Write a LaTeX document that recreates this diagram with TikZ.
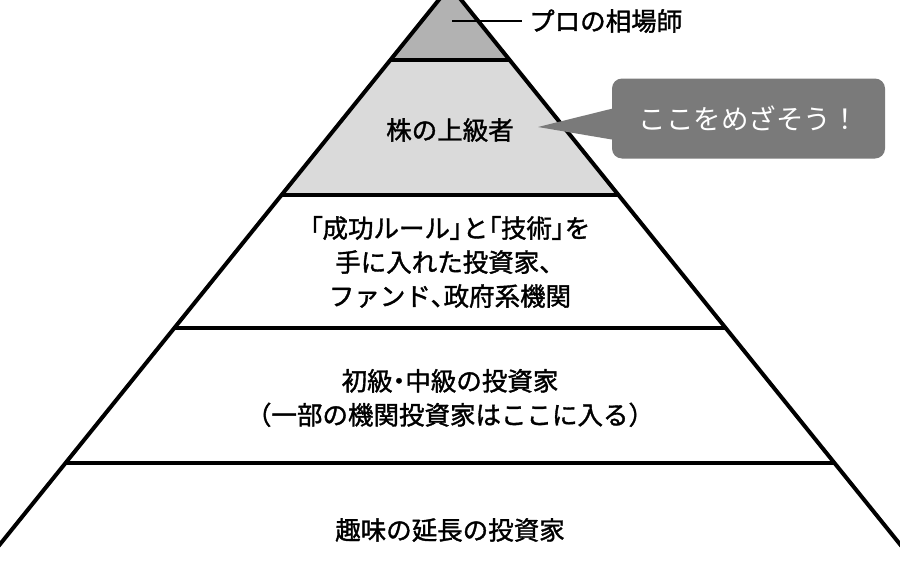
\documentclass[tikz,border=0pt]{standalone}
\usepackage{fontspec}
\newfontfamily\jp{Noto Sans CJK JP}
\newfontfamily\jpm[FakeBold=1.4]{Noto Sans CJK JP}
\newfontfamily\jpp[FakeBold=1.4,RawFeature=+palt]{Noto Sans CJK JP}
\newcommand{\tight}[1]{{\jpp #1}}
\definecolor{topgray}{HTML}{B2B2B2}
\definecolor{bandgray}{HTML}{DADADA}
\definecolor{calloutgray}{HTML}{7A7A7A}
\begin{document}
\begin{tikzpicture}[x=1pt,y=-1pt,
  lbl/.style={font=\jpm\fontsize{25.5}{34}\selectfont, align=center, text=black, inner sep=0pt},
  edgeline/.style={line width=4pt, black},
  leader/.style={line width=1.8pt, black},
  callbox/.style={fill=calloutgray, rounded corners=10pt, minimum width=273pt, minimum height=80pt,
    text=white, font=\jp\fontsize{27.5}{32}\selectfont, inner sep=0pt}]
\useasboundingbox (0,0) rectangle (900,576);
\coordinate (apex) at (450,-14);
\coordinate (l1) at (390.4,60);  \coordinate (r1) at (509.6,60);
\coordinate (l2) at (281.5,195); \coordinate (r2) at (618.5,195);
\coordinate (l3) at (174.3,328); \coordinate (r3) at (725.7,328);
\coordinate (l4) at (65.5,463);  \coordinate (r4) at (834.5,463);
\coordinate (bl) at (-44.9,600); \coordinate (br) at (944.9,600);
\begin{scope}
\clip (0,0) rectangle (900,576);
\fill[topgray] (apex) -- (l1) -- (r1) -- cycle;
\fill[bandgray] (l1) -- (l2) -- (r2) -- (r1) -- cycle;
\draw[edgeline] (bl) -- (apex) -- (br);
\draw[edgeline] (l1) -- (r1);
\draw[edgeline] (l2) -- (r2);
\draw[edgeline] (l3) -- (r3);
\draw[edgeline] (l4) -- (r4);
\end{scope}
% labels
\node[lbl, anchor=west] (pro) at (529,21) {プロの相場師};
\coordinate (prostart) at (452,21);
\draw[leader] (prostart) -- ([xshift=-7pt]pro.west);
\node[lbl] (joukyu) at (450,130) {株の上級者};
\node[lbl] (seikou) at (450,262) {\tight{「}成功ルール\tight{」}と\tight{「}技術\tight{」}を\\手に入れた投資家、\\ファンド\tight{、}政府系機関};
\node[lbl] (shokyu) at (450,398) {初級\tight{・}中級の投資家\\（一部の機関投資家はここに入る）};
\node[lbl] (shumi) at (450,530) {趣味の延長の投資家};
% callout
\node[callbox] (call) at (748.5,118.5) {ここをめざそう！};
\coordinate (tip) at (538,127);
\fill[calloutgray] (tip) -- ([xshift=3pt,yshift=10.5pt]call.west) -- ([xshift=3pt,yshift=-21.5pt]call.west) -- cycle;
\end{tikzpicture}
\end{document}
